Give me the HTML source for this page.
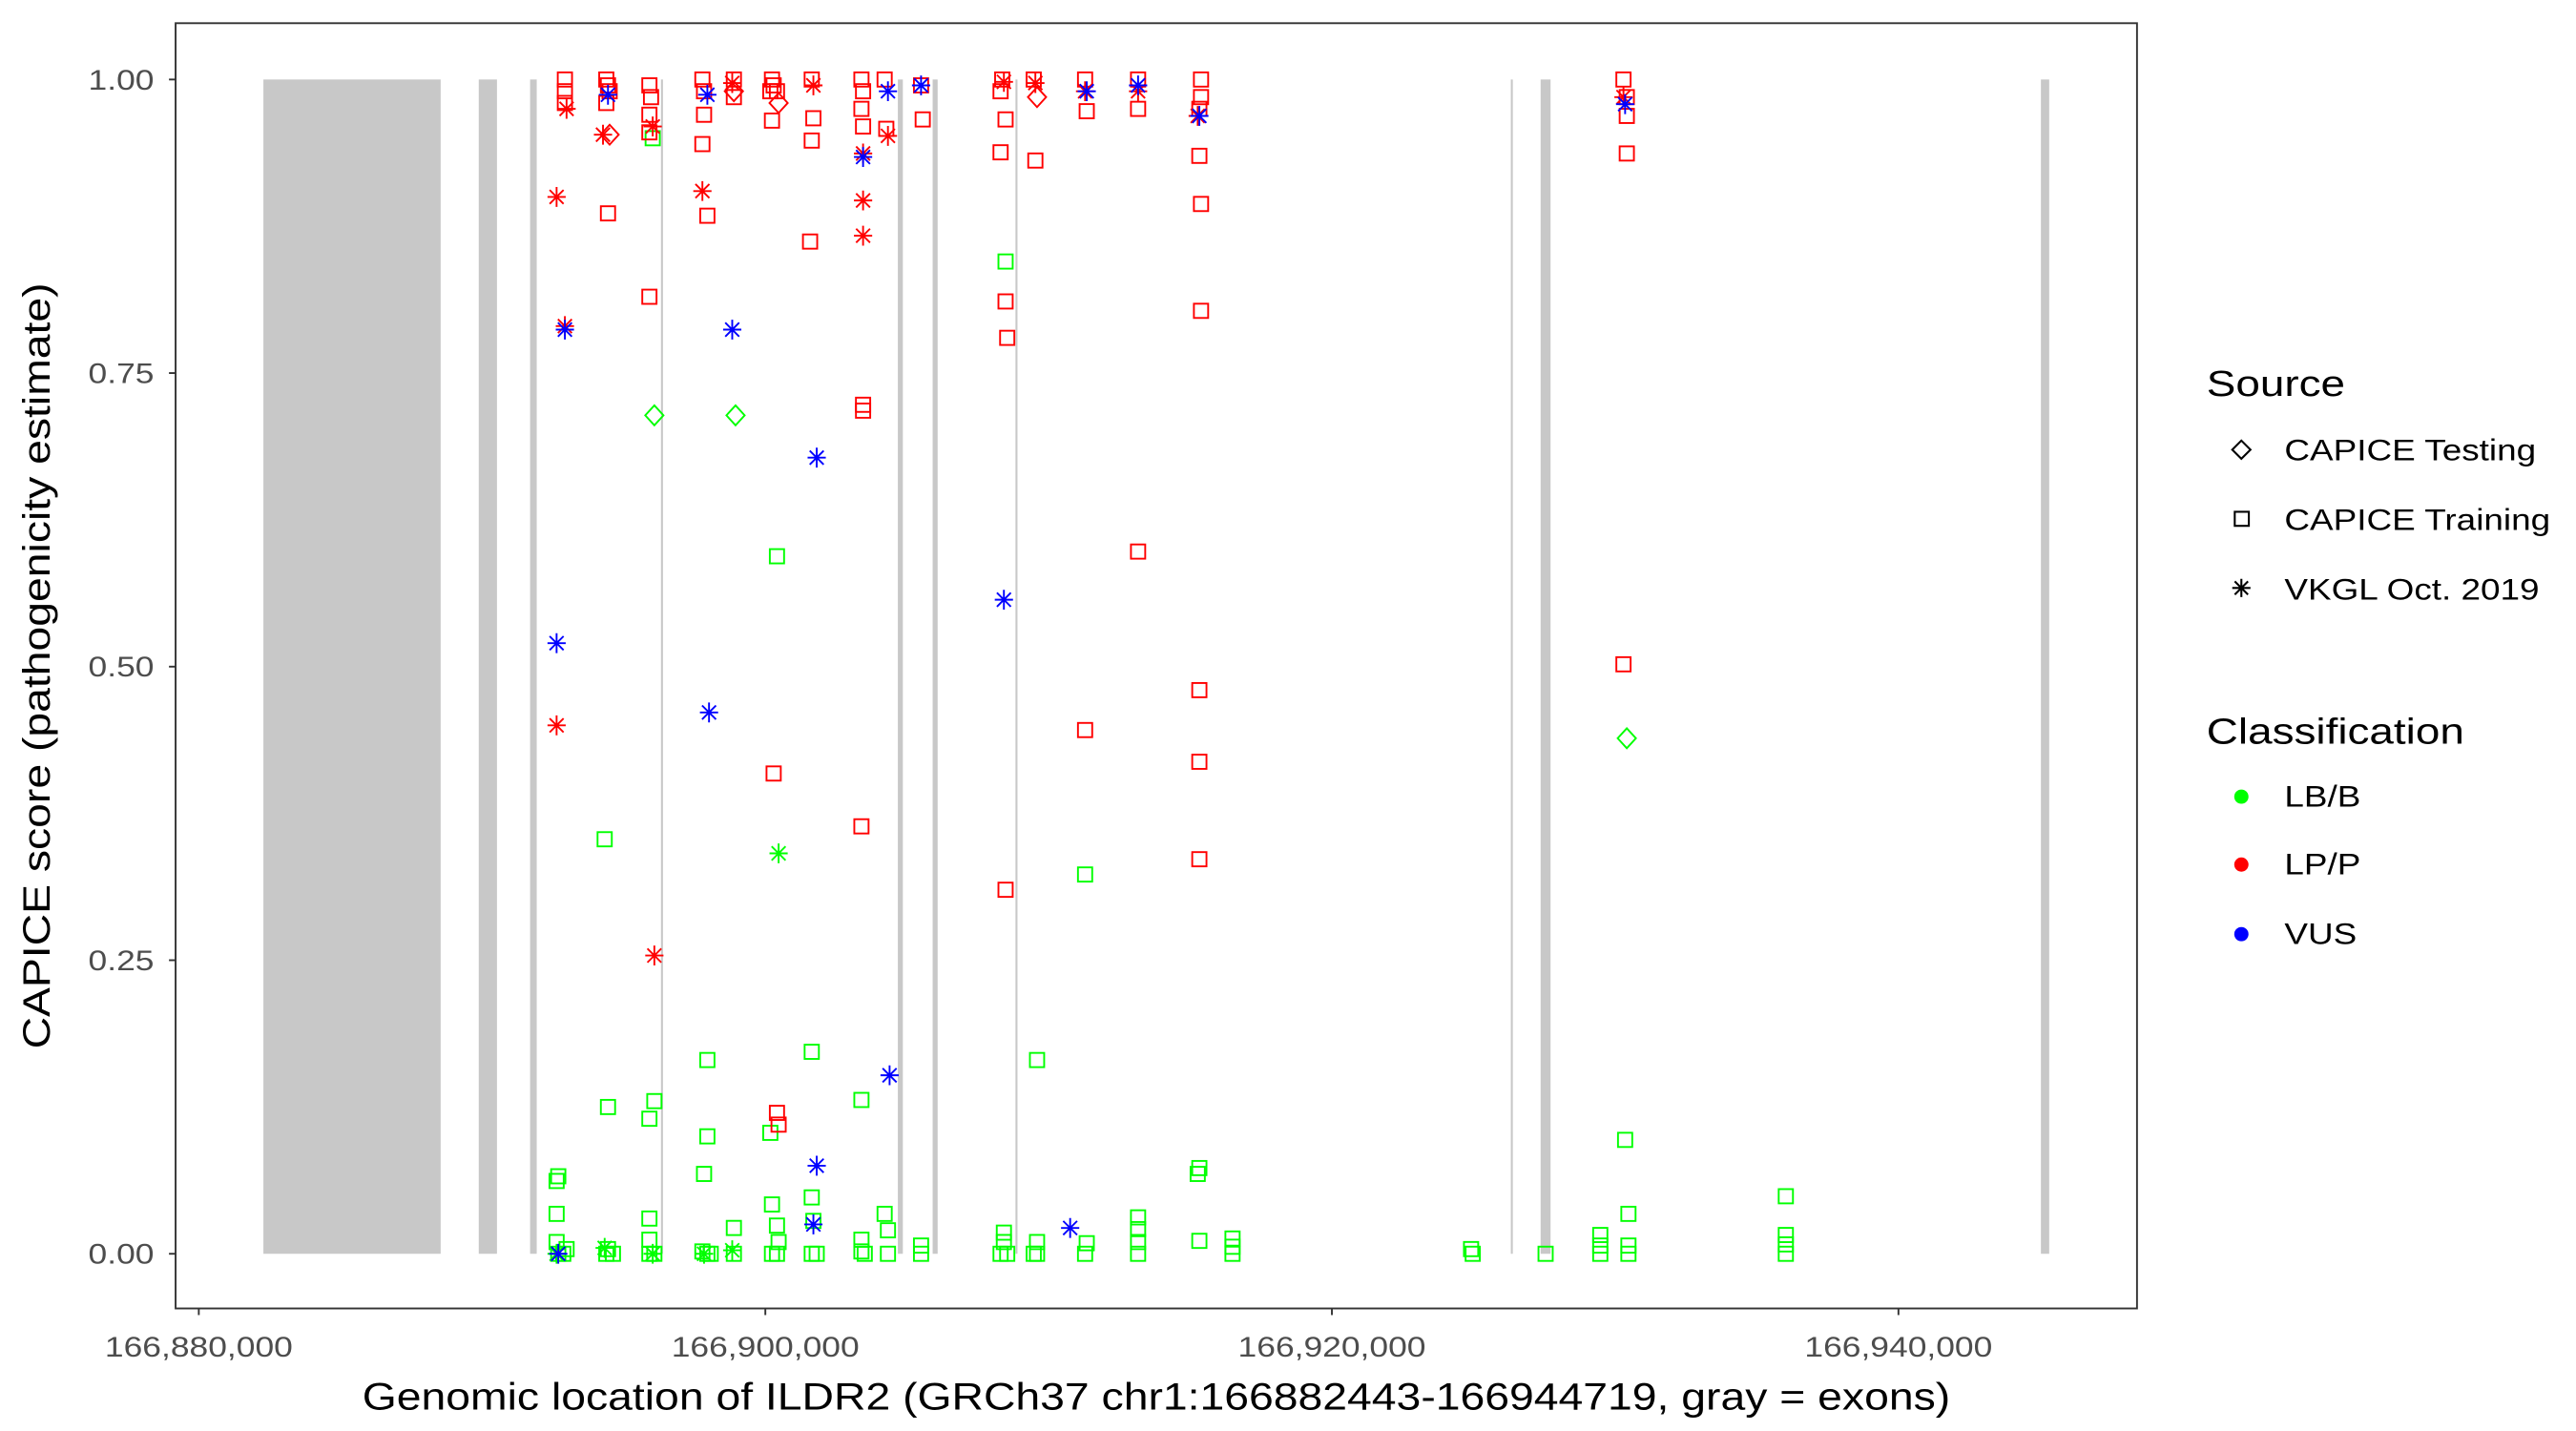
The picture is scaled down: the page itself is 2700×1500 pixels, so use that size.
<!DOCTYPE html>
<html><head><meta charset="utf-8">
<style>
html,body{margin:0;padding:0;background:#fff;}
svg{display:block;}
text{font-family:"Liberation Sans",Arial,sans-serif;}
</style></head>
<body>
<svg id="chart" width="2700" height="1500" viewBox="0 0 1555 864" preserveAspectRatio="none" xmlns="http://www.w3.org/2000/svg">
  <rect x="0" y="0" width="1555" height="864" fill="#fff"/>
  <g id="exons"></g>
  <g id="points"></g>
  <rect x="106" y="14" width="1184" height="776" fill="none" stroke="#333" stroke-width="1.1"/>
  <g id="yaxis"></g>
  <g id="xaxis"></g>
  <text transform="translate(30,402) rotate(-90) scale(1.16,1)" text-anchor="middle" font-size="23" fill="#000">CAPICE score (pathogenicity estimate)</text>
  <text transform="translate(698,851) scale(1.16,1)" text-anchor="middle" font-size="23" fill="#000">Genomic location of ILDR2 (GRCh37 chr1:166882443-166944719, gray = exons)</text>
  <g>
    <text transform="translate(1332,239) scale(1.2,1)" font-size="22">Source</text>
    <path d="M1353,266 L1358.5,271.5 L1353,277 L1347.5,271.5 Z" fill="none" stroke="#000" stroke-width="1.2"/>
    <text transform="translate(1379,278) scale(1.18,1)" font-size="18">CAPICE Testing</text>
    <rect x="1349" y="309" width="8.5" height="8.5" fill="none" stroke="#000" stroke-width="1.2"/>
    <text transform="translate(1379,320) scale(1.18,1)" font-size="18">CAPICE Training</text>
    <path d="M1353,349.5 V360.5 M1347.5,355 H1358.5 M1349,351 L1357,359 M1357,351 L1349,359" stroke="#000" stroke-width="1.2"/>
    <text transform="translate(1379,362) scale(1.18,1)" font-size="18">VKGL Oct. 2019</text>
  </g>
  <g>
    <text transform="translate(1332,449) scale(1.2,1)" font-size="22">Classification</text>
    <circle cx="1353" cy="481" r="4.3" fill="#00ff00"/>
    <text transform="translate(1379,487) scale(1.18,1)" font-size="18">LB/B</text>
    <circle cx="1353" cy="522" r="4.3" fill="#ff0000"/>
    <text transform="translate(1379,528) scale(1.18,1)" font-size="18">LP/P</text>
    <circle cx="1353" cy="564" r="4.3" fill="#0000ff"/>
    <text transform="translate(1379,570) scale(1.18,1)" font-size="18">VUS</text>
  </g>
</svg>
<script>
const yTicks = [0, 0.25, 0.5, 0.75, 1.0];
const yTickLabels = ["0.00", "0.25", "0.50", "0.75", "1.00"];
const xTicks = [166880000, 166900000, 166920000, 166940000];
const xTickLabels = ["166,880,000", "166,900,000", "166,920,000", "166,940,000"];
const exonStarts = [166882281, 166889883, 166891696, 166896316, 166904678, 166905906, 166908830, 166926316, 166927368, 166945029];
const exonEnds   = [166888538, 166890526, 166891930, 166896374, 166904854, 166906082, 166908889, 166926374, 166927719, 166945322];

const positions = [
 166892631,166892631,166892924,166892983,166892631,166892924,166892690,166892924,166892924,166892924,166892631,166892690,166892631,166892631,166892866,166892690,166892983,166892631,
 166894386,166894445,166894503,166894386,166894445,166894503,166894269,166894445,166894328,166894445,166894386,166894445,166894620,166894328,
 166895907,166895965,166895907,166895907,166895907,166896024,166896024,166896082,166896082,166896082,166895907,166895907,166895907,166895907,166896082,166896024,
 166897778,166897836,166897836,166897778,166897953,166897778,166897953,166898012,166897953,166897953,166897836,166897778,166897953,166898071,166897836,
 166898889,166898889,166898831,166898889,166898831,166898948,166898889,166898889,166898831,
 166900234,166900293,166900176,166900410,166900234,166900468,166900293,166900410,166900468,166900468,166900410,166900176,166900234,166900410,166900468,166900234,166900410,
 166901638,166901696,166901638,166901579,166901696,166901813,166901813,166901696,166901638,166901638,166901696,166901638,166901813,
 166903392,166903450,166903392,166903450,166903450,166903450,166903392,166903450,166903450,166903450,166903450,166903392,166903392,166903509,166903392,
 166904211,166904269,166904328,166904328,166904386,166904211,166904328,166904328,
 166905556,166905497,166905497,166905497,166905497,
 166908362,166908304,166908304,166908480,166908538,166908480,166908480,166908421,166908421,166908480,166908421,166908421,166908304,166908538,
 166909474,166909532,166909591,166909532,166909591,166909591,166909474,166909591,
 166910760,
 166911287,166911345,166911287,166911287,166911345,166911287,166911345,166911287,
 166913158,166913158,166913158,166913158,166913158,166913158,166913158,166913158,166913158,
 166915380,166915380,166915321,166915321,166915380,166915380,166915321,166915321,166915321,166915321,166915263,166915321,166915263,166915321,
 166916492,166916492,166916492,
 166924913,166924971,
 166927544,
 166929474,166929474,166929474,
 166930293,166930410,166930410,166930410,166930293,166930351,166930293,166930410,166930351,166930468,166930468,166930468,
 166936024,166936024,166936024,166936024
];
const scores = [
 0.90,0.45,0.79,0.975,0.52,0.787,0.0,0.99,1.0,0.98,0.062,0.066,0.034,0.01,0.0,0.0,0.004,0.0,
 1.0,0.995,0.99,0.98,0.886,0.953,0.953,0.987,0.353,0.125,0.0,0.004,0.0,0.005,
 0.995,0.985,0.97,0.955,0.815,0.95,0.96,0.254,0.714,0.13,0.115,0.03,0.012,0.0,0.0,0.0,
 1.0,0.99,0.97,0.945,0.884,0.905,0.987,0.461,0.165,0.10,0.068,0.002,0.0,0.0,0.0,
 1.0,0.985,0.997,0.99,0.787,0.714,0.022,0.0,0.003,
 1.0,0.995,0.99,0.99,0.965,0.98,0.409,0.12,0.11,0.341,0.594,0.103,0.042,0.024,0.01,0.0,0.0,
 1.0,0.967,0.948,0.862,0.995,0.678,0.075,0.025,0.172,0.048,0.028,0.0,0.0,
 1.0,0.99,0.975,0.96,0.723,0.718,0.364,0.937,0.897,0.867,0.934,0.131,0.012,0.0,0.002,
 1.0,0.958,0.952,0.99,0.152,0.034,0.02,0.0,
 0.966,0.995,0.995,0.007,0.0,
 1.0,0.99,0.938,0.811,0.78,0.31,0.966,0.998,0.557,0.845,0.018,0.01,0.0,0.0,
 1.0,0.931,0.985,0.997,0.165,0.01,0.0,0.0,
 0.022,
 1.0,0.973,0.446,0.99,0.99,0.323,0.009,0.0,
 1.0,0.975,0.598,0.995,0.99,0.031,0.021,0.01,0.0,
 1.0,0.985,0.975,0.935,0.894,0.803,0.48,0.419,0.336,0.969,0.969,0.073,0.068,0.011,
 0.013,0.006,0.0,
 0.004,0.0,
 0.0,
 0.016,0.007,0.0,
 1.0,0.985,0.969,0.937,0.502,0.979,0.985,0.439,0.097,0.034,0.007,0.0,
 0.049,0.016,0.008,0.0
];
// D = CAPICE Testing, S = CAPICE Training, A = VKGL Oct. 2019
const sources = ("AAAAAAASSSSSSSSSSA"+"SSSSSDAASSSSSA"+"SSSSSSAADSSSSSSA"+"SSSSSAAASSSSSSA"+"SSADADSSA"+
  "SSSSSDSSSASSSSSSS"+"SSSSAAAASSSSS"+"SSSSSSSAAAASSSS"+"SSAAASSS"+"SSASS"+"SSSSSSSAASSSSS"+"SSDASSSS"+"A"+
  "SSSAASSS"+"SSSAASSSS"+"SSSSSSSSSAASSS"+"SSS"+"SS"+"S"+"SSS"+"SSSSSAADSSSS"+"SSSS").split("");
// G = LB/B, R = LP/P, B = VUS
const classes = ("RRRRBBBRRRGGGGGGGG"+"RRRRRRRBGGGGGG"+"RRRRRGRRGGGGGGGG"+"RRRRRRBBGGGGGGG"+"RRRRBGGGG"+
  "RRRRRRRRRGGGGGGGG"+"RRRRRBBBGGGGG"+"RRRRRRRRRRBGGGG"+"RRRBBGGG"+"RRBGG"+"RRRRRRRRBGGGGG"+"RRRRGGGG"+"B"+
  "RRRRBGGG"+"RRRBRGGGG"+"RRRRRRRRRBRGGG"+"GGG"+"GG"+"G"+"GGG"+"RRRRRBRGGGGG"+"GGGG").split("");

const NS = "http://www.w3.org/2000/svg";
const X0 = 166880000, XPX0 = 120, XSCALE = 342 / 20000;
const YPX0 = 757, YSCALE = 709;
function xScale(g){ return XPX0 + (g - X0) * XSCALE; }
function yScale(v){ return YPX0 - v * YSCALE; }
function mk(tag, attrs){ const e = document.createElementNS(NS, tag); for (const k in attrs) e.setAttribute(k, attrs[k]); return e; }

const exG = document.getElementById("exons");
for (let i = 0; i < exonStarts.length; i++) {
  const x1 = xScale(exonStarts[i]), x2 = xScale(exonEnds[i]);
  const r = mk("rect", {x: x1, y: yScale(1), width: Math.max(x2 - x1, 1.2), height: yScale(0) - yScale(1), fill: "#c8c8c8"});
  
  
  exG.appendChild(r);
}

const yG = document.getElementById("yaxis");
yTicks.forEach((v, i) => {
  const y = yScale(v);
  const t = mk("line", {x1: 102, x2: 106, y1: y, y2: y, stroke: "#333", "stroke-width": 1.1});
  
  
  yG.appendChild(t);
  const l = mk("text", {transform: `translate(93,${y + 6}) scale(1.2,1)`, "text-anchor": "end", "font-size": 17, fill: "#4d4d4d"});
  l.textContent = yTickLabels[i];
  
  
  yG.appendChild(l);
});
const xG = document.getElementById("xaxis");
xTicks.forEach((g, i) => {
  const x = xScale(g);
  const t = mk("line", {x1: x, x2: x, y1: 790, y2: 794, stroke: "#333", "stroke-width": 1.1});
  
  
  xG.appendChild(t);
  const l = mk("text", {transform: `translate(${x},819) scale(1.2,1)`, "text-anchor": "middle", "font-size": 17, fill: "#4d4d4d"});
  l.textContent = xTickLabels[i];
  
  
  xG.appendChild(l);
});

const colors = {G: "#00ff00", R: "#ff0000", B: "#0000ff"};
const pG = document.getElementById("points");
["G", "R", "B"].forEach(c => {
  for (let i = 0; i < positions.length; i++) {
    if (classes[i] !== c) continue;
    const x = xScale(positions[i]), y = yScale(scores[i]), col = colors[c];
    let el;
    if (sources[i] === "S") {
      el = mk("rect", {x: x - 4.3, y: y - 4.3, width: 8.6, height: 8.6, fill: "none", stroke: col, "stroke-width": 1.1});
    } else if (sources[i] === "D") {
      el = mk("path", {d: `M${x},${y-6} L${x+5.5},${y} L${x},${y+6} L${x-5.5},${y} Z`, fill: "none", stroke: col, "stroke-width": 1.1});
    } else {
      el = mk("path", {d: `M${x},${y-6} V${y+6} M${x-5.5},${y} H${x+5.5} M${x-4.2},${y-4.2} L${x+4.2},${y+4.2} M${x+4.2},${y-4.2} L${x-4.2},${y+4.2}`, stroke: col, "stroke-width": 1.1, fill: "none"});
    }
    
    
    pG.appendChild(el);
  }
});
</script>
</body></html>
